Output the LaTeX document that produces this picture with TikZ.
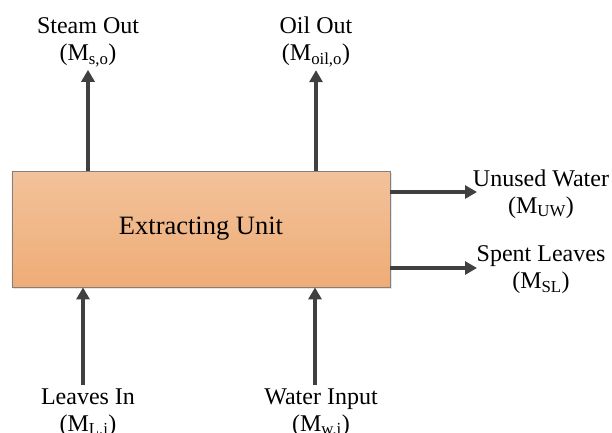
\documentclass[tikz,border=0pt]{standalone}
\usepackage{fontspec}
\setmainfont{Liberation Serif}
\usetikzlibrary{arrows.meta,shadows}
\definecolor{unitTop}{HTML}{F2C29B}
\definecolor{unitBot}{HTML}{EFAC76}
\definecolor{flowGray}{HTML}{404040}
\begin{document}
\begin{tikzpicture}[x=1bp,y=-1bp,
	flow/.style={draw=flowGray,line width=3.5bp,-{Triangle[length=12bp,width=13bp]}},
	flowtext/.style={align=center,inner sep=0pt,font=\fontsize{24bp}{27bp}\selectfont},
	unitbox/.style={draw=gray,line width=0.8bp,top color=unitTop,bottom color=unitBot,
		minimum width=378bp,minimum height=116bp,inner sep=0pt,
		font=\fontsize{26.5bp}{30bp}\selectfont,
		drop shadow={shadow xshift=1.5bp,shadow yshift=-1.5bp,opacity=0.2}}]
	\useasboundingbox (0,0) rectangle (612,432);
	\node[unitbox] (unit) at (201,229) {Extracting Unit};
	\node[flowtext] (steam) at (88,42) {Steam Out\\(M\textsubscript{s,o})};
	\node[flowtext] (oil) at (316,42) {Oil Out\\(M\textsubscript{oil,o})};
	\node[flowtext] (uw) at (541,194) {Unused Water\\(M\textsubscript{UW})};
	\node[flowtext] (sl) at (541,270) {Spent Leaves\\(M\textsubscript{SL})};
	\node[flowtext] (leaves) at (88,413) {Leaves In\\(M\textsubscript{L,i})};
	\node[flowtext] (water) at (321,413) {Water Input\\(M\textsubscript{w,i})};
	\coordinate (uwtip) at (477,192);
	\coordinate (sltip) at (477,268);
	\draw[flow,shorten >=3bp] (steam.south |- unit.north) -- (steam.south);
	\draw[flow,shorten >=3bp] (oil.south |- unit.north) -- (oil.south);
	\draw[flow] (unit.east |- uwtip) -- (uwtip);
	\draw[flow] (unit.east |- sltip) -- (sltip);
	\draw[flow,shorten <=3bp] ([xshift=-5bp]leaves.north) -- ([xshift=-5bp]leaves.north |- unit.south);
	\draw[flow,shorten <=3bp] ([xshift=-6bp]water.north) -- ([xshift=-6bp]water.north |- unit.south);
\end{tikzpicture}
\end{document}
